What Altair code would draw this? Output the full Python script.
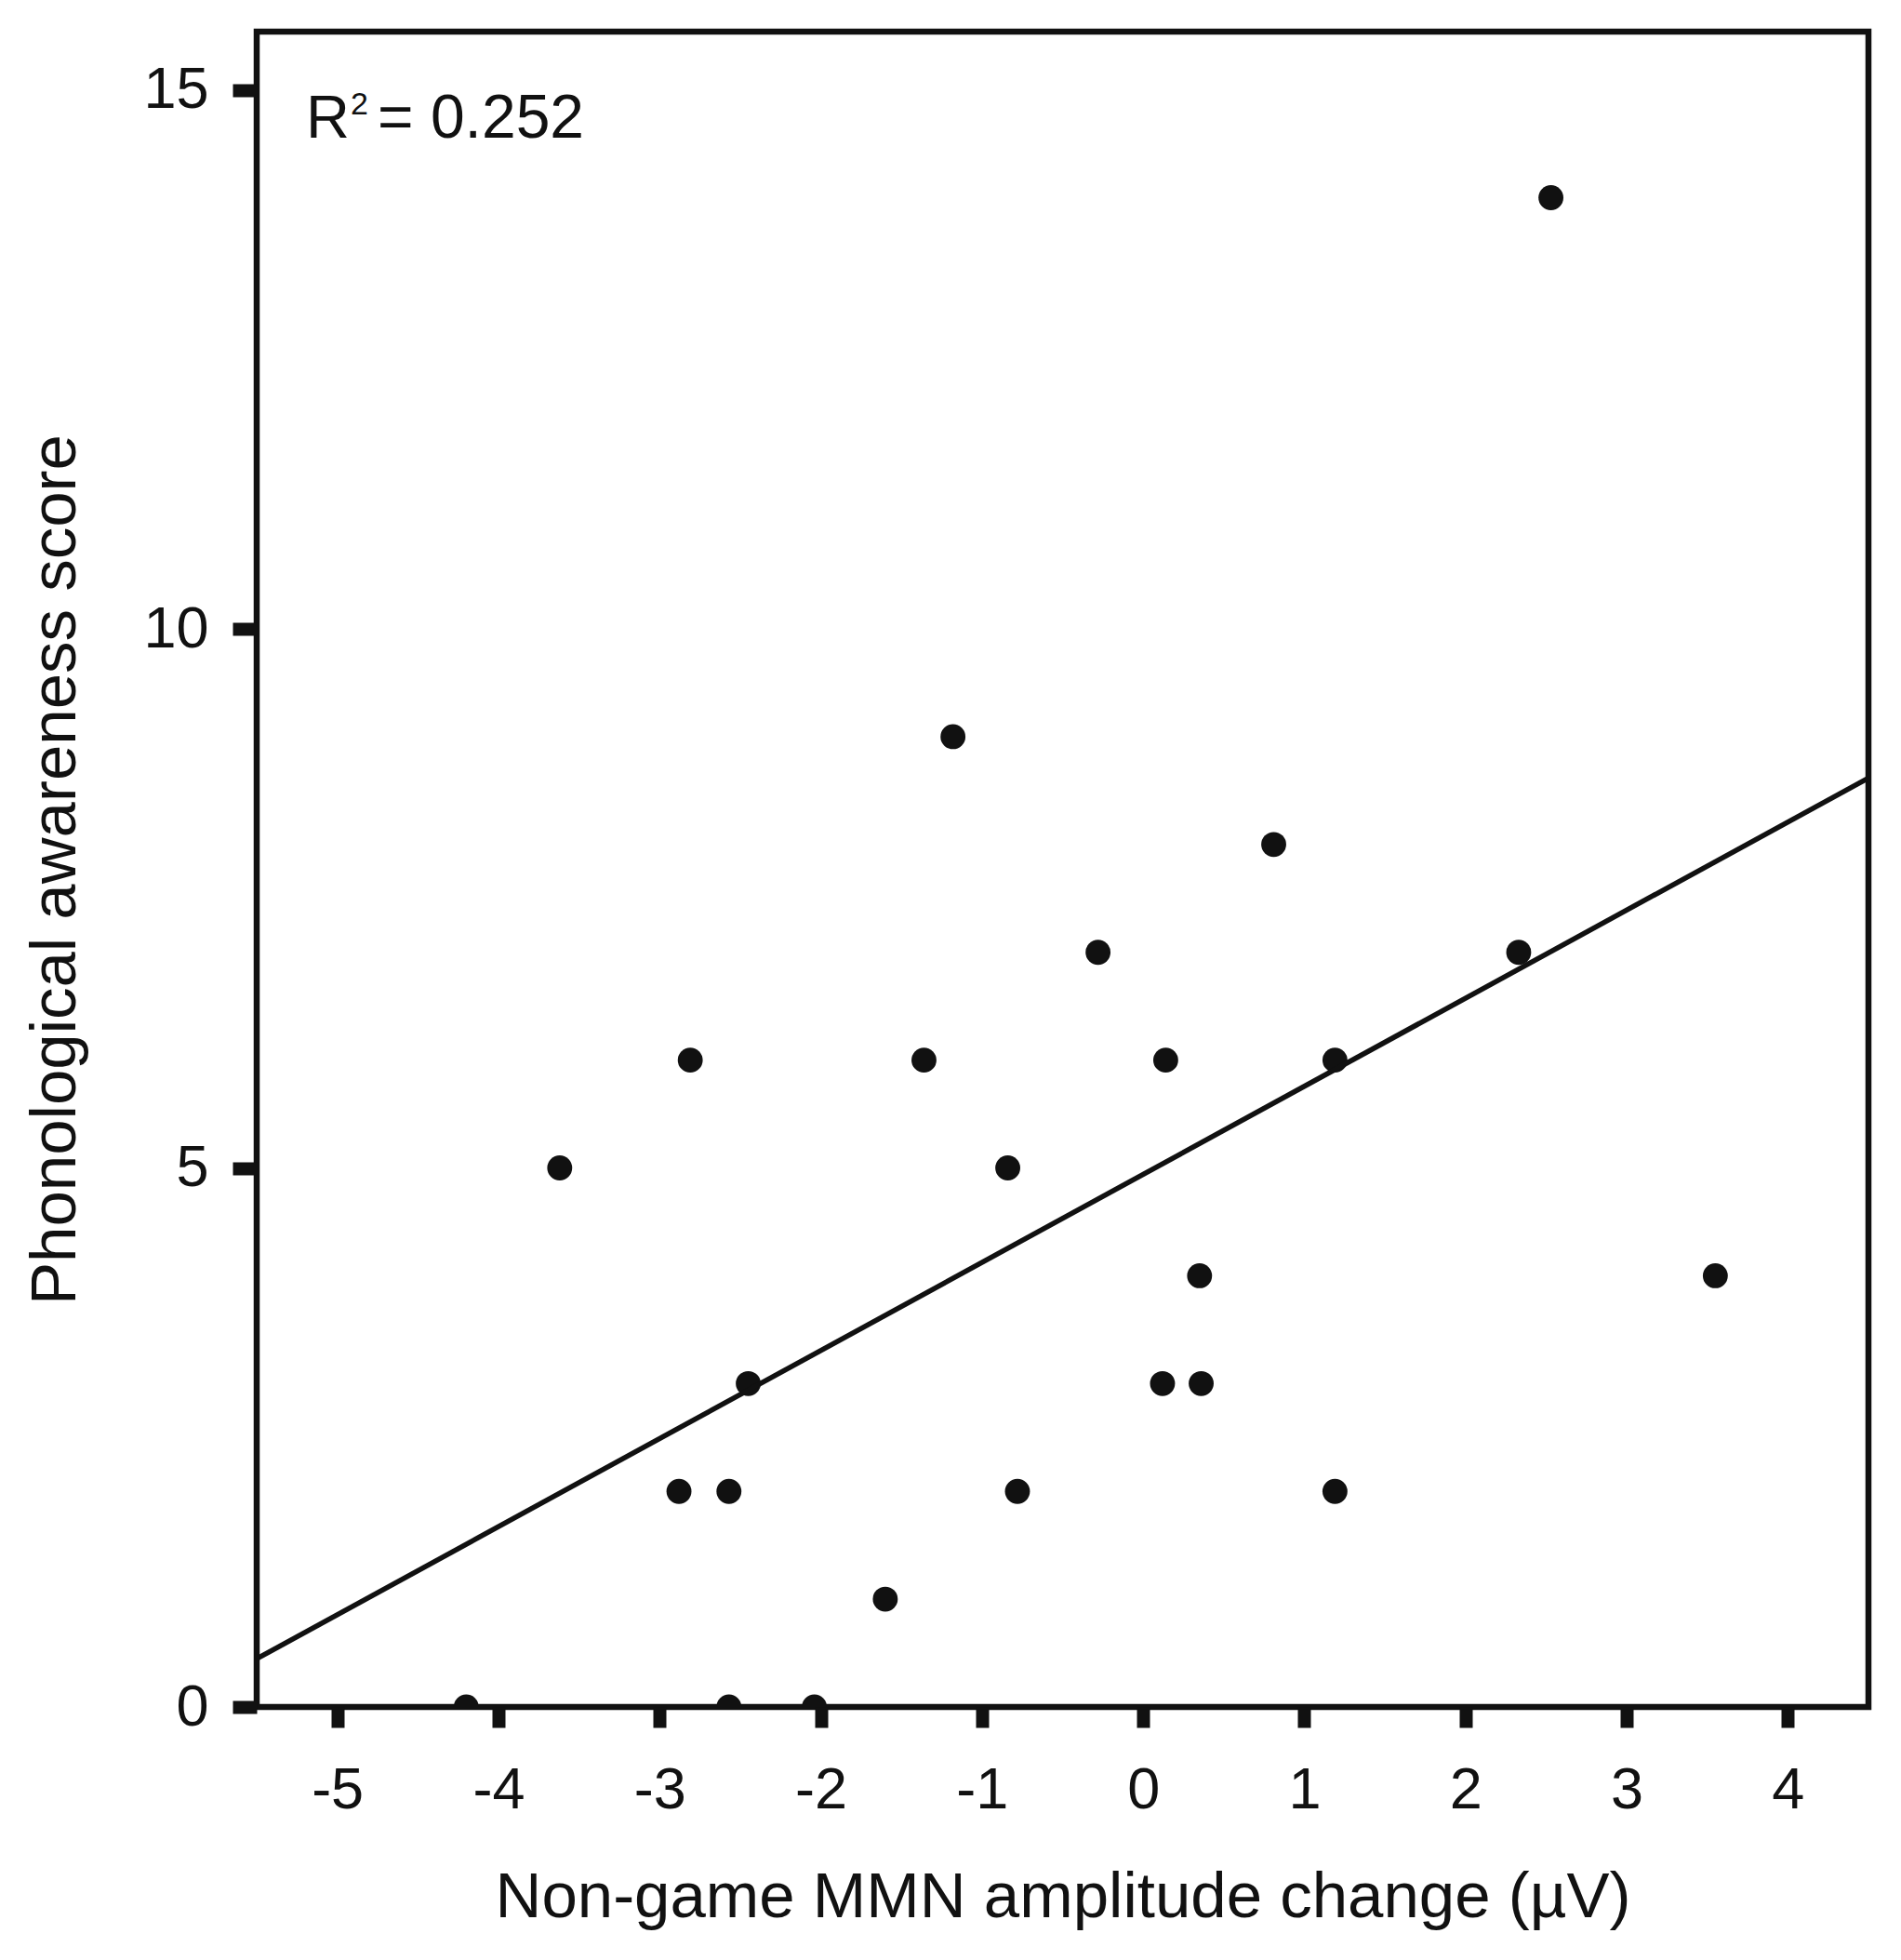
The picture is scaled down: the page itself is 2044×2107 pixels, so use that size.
import altair as alt
import pandas as pd

# Data
mmn_change = [2.53, -1.18, 0.81, -0.28, 2.33, -2.81, -1.36, 0.14, 1.19, -3.62,
              -0.84, 0.35, 3.55, -2.45, 0.12, 0.36, -2.88, -2.57, -0.78, 1.19,
              -1.60, -4.20, -2.57, -2.04]
pa_score = [14, 9, 8, 7, 7, 6, 6, 6, 6, 5,
            5, 4, 4, 3, 3, 3, 2, 2, 2, 2,
            1, 0, 0, 0]

x_ticks = [-5, -4, -3, -2, -1, 0, 1, 2, 3, 4]
y_ticks = [0, 5, 10, 15]
x_domain = [-5.5, 4.5]
y_domain = [0, 15.54]

df = pd.DataFrame({"x": mmn_change, "y": pa_score})

FONT = "Liberation Sans"
INK = "#111111"

x_enc = alt.X(
    "x:Q",
    scale=alt.Scale(domain=x_domain, nice=False, zero=False),
    axis=alt.Axis(
        values=x_ticks, title="Non-game MMN amplitude change (µV)",
        labelExpr="datum.value + ''",
        titleY=225, titleBaseline="alphabetic",
        tickSize=22, labelPadding=36,
    ),
)
y_enc = alt.Y(
    "y:Q",
    scale=alt.Scale(domain=y_domain, nice=False),
    axis=alt.Axis(
        values=y_ticks, title="Phonological awareness score",
        labelExpr="datum.value + ''",
        titleX=-196, titleBaseline="alphabetic",
        tickSize=26, labelPadding=26,
    ),
)

points = alt.Chart(df).mark_circle(color=INK, opacity=1, size=720, clip=True).encode(
    x=x_enc, y=y_enc
)

fit = alt.Chart(df).transform_regression(
    "x", "y", extent=x_domain
).mark_line(color=INK, strokeWidth=5.5, clip=True).encode(
    x=alt.X("x:Q"), y=alt.Y("y:Q")
)

r_main = alt.Chart(pd.DataFrame({"t": ["R"]})).mark_text(
    align="left", baseline="alphabetic", fontSize=65, font=FONT, color=INK
).encode(x=alt.value(53), y=alt.value(114), text="t:N")

r_sup = alt.Chart(pd.DataFrame({"t": ["2"]})).mark_text(
    align="left", baseline="alphabetic", fontSize=34, font=FONT, color=INK
).encode(x=alt.value(101), y=alt.value(89), text="t:N")

r_val = alt.Chart(pd.DataFrame({"t": ["= 0.252"]})).mark_text(
    align="left", baseline="alphabetic", fontSize=66, font=FONT, color=INK
).encode(x=alt.value(130), y=alt.value(114), text="t:N")

chart = alt.layer(points, fit, r_main, r_sup, r_val).properties(
    width=1733, height=1801,
    autosize=alt.AutoSizeParams(type="none"),
    padding={"left": 268, "top": 26, "right": 27, "bottom": 264},
).configure_view(
    stroke=INK, strokeWidth=6.5
).configure_axis(
    domain=False, grid=False,
    ticks=True, tickColor=INK, tickWidth=14,
    labelFont=FONT, labelFontSize=63, labelColor=INK,
    titleFont=FONT, titleFontSize=69, titleColor=INK, titleFontWeight="normal",
)

chart.save("out.html", embed_options={"renderer": "svg", "actions": False})
